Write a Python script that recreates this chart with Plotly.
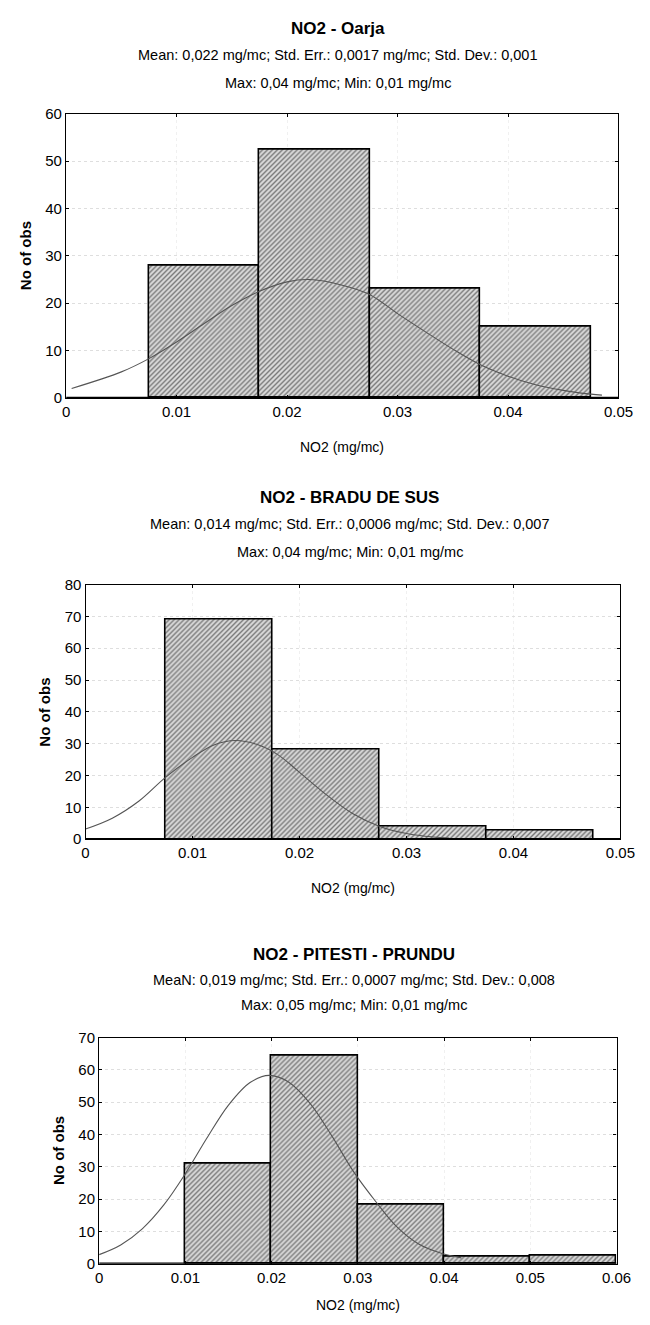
import plotly.graph_objects as go

W, H = 650, 1325

# ---------------- data ----------------
titles = ["NO2 - Oarja", "NO2 - BRADU DE SUS", "NO2 - PITESTI - PRUNDU"]
subtitles1 = [
    "Mean: 0,022 mg/mc; Std. Err.: 0,0017 mg/mc; Std. Dev.: 0,001",
    "Mean: 0,014 mg/mc; Std. Err.: 0,0006 mg/mc; Std. Dev.: 0,007",
    "MeaN: 0,019 mg/mc; Std. Err.: 0,0007 mg/mc; Std. Dev.: 0,008",
]
subtitles2 = [
    "Max: 0,04 mg/mc; Min: 0,01 mg/mc",
    "Max: 0,04 mg/mc; Min: 0,01 mg/mc",
    "Max: 0,05 mg/mc; Min: 0,01 mg/mc",
]
x_title = "NO2 (mg/mc)"
y_title = "No of obs"

# chart 1 (Oarja)
bins1 = [0.0125, 0.0225, 0.0325, 0.0425]
counts1 = [28, 52.4, 23, 15]
curve1_x = [0.0005, 0.005, 0.0075, 0.01, 0.0125, 0.015, 0.0175, 0.02, 0.022, 0.025,
            0.0275, 0.03, 0.0325, 0.035, 0.0375, 0.04, 0.0425, 0.045, 0.0475, 0.0485]
curve1_y = [2.0, 5.5, 8.3, 11.8, 15.7, 19.5, 22.5, 24.5, 25.0, 23.8,
            21.8, 17.8, 14.0, 10.3, 7.0, 4.6, 2.8, 1.6, 0.8, 0.6]

# chart 2 (Bradu de Sus)
bins2 = [0.0125, 0.0225, 0.0325, 0.0425]
counts2 = [69, 28.2, 4, 2.6]
curve2_x = [0.0, 0.0025, 0.005, 0.0075, 0.01, 0.012, 0.014, 0.016, 0.018, 0.02,
            0.0225, 0.025, 0.0275, 0.03, 0.0325, 0.034]
curve2_y = [3.2, 6.6, 12.0, 19.5, 25.7, 29.6, 31.0, 29.8, 26.5, 21.0,
            14.0, 8.0, 4.0, 1.8, 0.7, 0.4]

# chart 3 (Pitesti - Prundu)
bins3 = [0.015, 0.025, 0.035, 0.045, 0.055]
counts3 = [31, 64.5, 18.3, 2.2, 2.6]
curve3_x = [0.0, 0.0025, 0.005, 0.0075, 0.01, 0.0125, 0.015, 0.0175, 0.0197, 0.022,
            0.0245, 0.027, 0.0295, 0.032, 0.0345, 0.037, 0.0395, 0.042]
curve3_y = [2.8, 5.8, 10.8, 18.2, 27.9, 38.9, 49.1, 56.1, 58.3, 56.2,
            49.5, 39.5, 28.5, 19.5, 11.5, 6.2, 3.4, 1.8]

bin_width = 0.01

x_ranges = [[0, 0.05], [0, 0.05], [0, 0.06]]
y_ranges = [[0, 60], [0, 80], [0, 70]]
x_ticks = [[0, 0.01, 0.02, 0.03, 0.04, 0.05],
           [0, 0.01, 0.02, 0.03, 0.04, 0.05],
           [0, 0.01, 0.02, 0.03, 0.04, 0.05, 0.06]]

# ---------------- layout geometry (pixels) ----------------
plot_px = [  # left, right, top, bottom
    (64, 633, 106, 394),
    (84, 635, 583, 841),
    (98, 631, 1042, 1271),
]
title_y = [(20, 47, 75), (495, 522, 550), (958, 984, 1009)]
title_x = [344, 356, 361]
xtitle_gap = [50, 49, 42]

FONT = "Liberation Sans, Arial, sans-serif"

fig = go.Figure()
all_bins = [bins1, bins2, bins3]
all_counts = [counts1, counts2, counts3]
all_cx = [curve1_x, curve2_x, curve3_x]
all_cy = [curve1_y, curve2_y, curve3_y]

annotations = []
for i in range(3):
    xa = "x" if i == 0 else f"x{i+1}"
    ya = "y" if i == 0 else f"y{i+1}"
    fig.add_trace(go.Bar(
        x=all_bins[i], y=all_counts[i], width=bin_width,
        xaxis=xa, yaxis=ya,
        marker=dict(color="#d0d0d0",
                    line=dict(color="black", width=1.6),
                    pattern=dict(shape="/", fgcolor="#1a1a1a", bgcolor="#dadada",
                                 size=3.5, solidity=0.4)),
        showlegend=False,
    ))
    fig.add_trace(go.Scatter(
        x=all_cx[i], y=all_cy[i], mode="lines", xaxis=xa, yaxis=ya,
        line=dict(color="#555555", width=1.1, shape="spline"),
        showlegend=False,
    ))
    l, r, t, b = plot_px[i]
    xdom = [l / W, r / W]
    ydom = [1 - b / H, 1 - t / H]
    axis_common = dict(showline=True, linecolor="black", linewidth=1.3, mirror="ticks",
                       ticks="inside", ticklen=3, tickcolor="black",
                       tickfont=dict(family=FONT, size=15, color="black"),
                       griddash="dot", gridwidth=1, zeroline=False)
    fig.layout[("xaxis" if i == 0 else f"xaxis{i+1}")] = dict(
        domain=xdom, range=x_ranges[i], tickvals=x_ticks[i],
        ticktext=[("0" if v == 0 else f"{v:.2f}") for v in x_ticks[i]],
        showgrid=True, gridcolor="#f0f0f0",
        anchor=ya, **axis_common)
    fig.layout[("yaxis" if i == 0 else f"yaxis{i+1}")] = dict(
        domain=ydom, range=y_ranges[i], dtick=10, showgrid=True, gridcolor="#dedede",
        anchor=xa, **axis_common)
    # zero baseline (thick)
    fig.add_shape(type="line", xref=xa, yref=ya, x0=x_ranges[i][0], x1=x_ranges[i][1],
                  y0=0, y1=0, line=dict(color="black", width=2.5))
    ty = title_y[i]
    annotations.append(dict(text=f"<b>{titles[i]}</b>", x=title_x[i] / W, y=1 - ty[0] / H,
                            xref="paper", yref="paper", showarrow=False,
                            font=dict(family=FONT, size=17, color="black"),
                            xanchor="center", yanchor="middle"))
    annotations.append(dict(text=subtitles1[i], x=title_x[i] / W, y=1 - ty[1] / H,
                            xref="paper", yref="paper", showarrow=False,
                            font=dict(family=FONT, size=14.5, color="black"),
                            xanchor="center", yanchor="middle"))
    annotations.append(dict(text=subtitles2[i], x=title_x[i] / W, y=1 - ty[2] / H,
                            xref="paper", yref="paper", showarrow=False,
                            font=dict(family=FONT, size=14.5, color="black"),
                            xanchor="center", yanchor="middle"))
    # axis titles
    annotations.append(dict(text=x_title, x=(l + r) / 2 / W, y=1 - (b + xtitle_gap[i]) / H,
                            xref="paper", yref="paper", showarrow=False,
                            font=dict(family=FONT, size=14, color="black"),
                            xanchor="center", yanchor="middle"))
    annotations.append(dict(text=f"<b>{y_title}</b>", x=(l - 42) / W, y=1 - (t + b) / 2 / H,
                            xref="paper", yref="paper", showarrow=False, textangle=-90,
                            font=dict(family=FONT, size=15, color="black"),
                            xanchor="center", yanchor="middle"))

fig.update_layout(width=W, height=H, margin=dict(l=0, r=0, t=0, b=0),
                  paper_bgcolor="white", plot_bgcolor="white",
                  annotations=annotations, bargap=0, barmode="overlay")

fig.write_html("out.html", config={"displayModeBar": False},
               post_script="document.body.style.margin='0';document.body.style.padding='0';")
